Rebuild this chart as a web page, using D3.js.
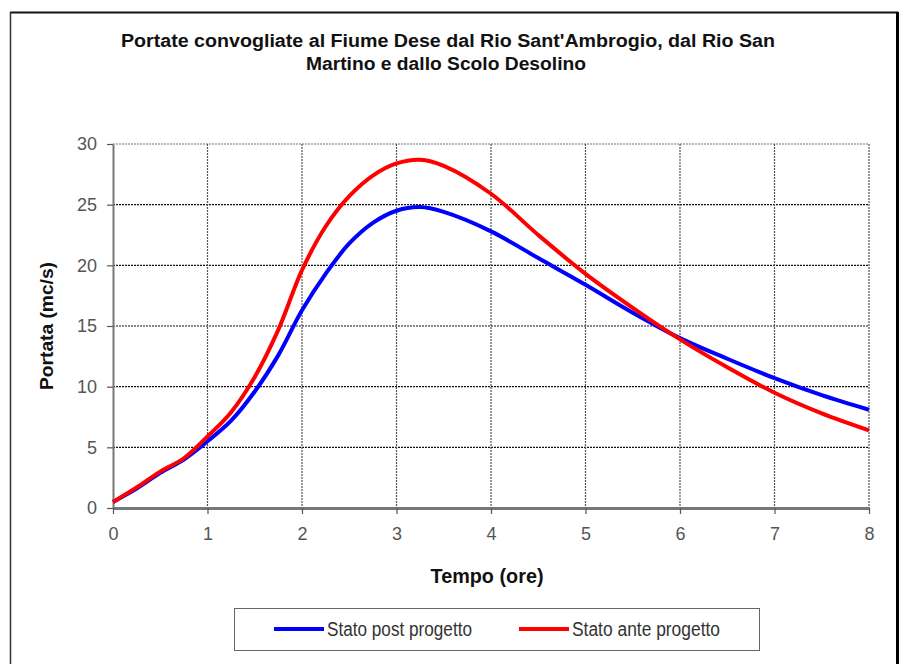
<!DOCTYPE html>
<html>
<head>
<meta charset="utf-8">
<script src="https://d3js.org/d3.v7.min.js"></script>
<style>
  body { margin: 0; background: #fff; }
  svg { display: block; }
  text { font-family: "Liberation Sans Narrow", "Liberation Sans", Arial, sans-serif; }
</style>
</head>
<body>
<script>
// Chart data
var tempo = [0, 0.25, 0.5, 0.75, 1, 1.25, 1.5, 1.75, 2, 2.25, 2.5, 2.75, 3, 3.25, 3.5,
             4, 4.5, 5, 5.5, 6, 6.5, 7, 7.5, 8];
var statoPost = [0.5, 1.6, 2.9, 4.0, 5.5, 7.2, 9.6, 12.6, 16.3, 19.3, 21.8, 23.5, 24.5, 24.8, 24.4,
                 22.8, 20.6, 18.4, 16.1, 14.0, 12.3, 10.7, 9.3, 8.1];
var statoAnte = [0.5, 1.7, 3.0, 4.1, 5.9, 7.9, 10.8, 14.7, 19.6, 23.2, 25.7, 27.4, 28.4, 28.7, 28.2,
                 25.9, 22.5, 19.3, 16.5, 13.9, 11.6, 9.5, 7.8, 6.4];
var xTicks = [0, 1, 2, 3, 4, 5, 6, 7, 8];
var yTicks = [0, 5, 10, 15, 20, 25, 30];
var seriesNames = ["Stato post progetto", "Stato ante progetto"];
var seriesColors = ["#0000ff", "#ff0000"];

var W = 907, H = 664;
var plot = {left: 113, right: 869, top: 144, bottom: 508};

var svg = d3.select("body").append("svg")
    .attr("width", W)
    .attr("height", H);

// outer frame
svg.append("rect").attr("x", 0).attr("y", 0).attr("width", W).attr("height", H).attr("fill", "#fff");
svg.append("line").attr("x1", 10).attr("x2", 898).attr("y1", 12.5).attr("y2", 12.5)
    .attr("stroke", "#111").attr("stroke-width", 2);
svg.append("line").attr("x1", 10.5).attr("x2", 10.5).attr("y1", 12).attr("y2", H)
    .attr("stroke", "#333").attr("stroke-width", 1.5);
svg.append("line").attr("x1", 897.5).attr("x2", 897.5).attr("y1", 12).attr("y2", H)
    .attr("stroke", "#000").attr("stroke-width", 3);

var x = d3.scaleLinear().domain([0, 8]).range([plot.left, plot.right]);
var y = d3.scaleLinear().domain([0, 30]).range([plot.bottom, plot.top]);

// grid
svg.append("g")
  .selectAll("line")
  .data(yTicks.filter(function(d) { return d > 0; }))
  .enter().append("line")
    .attr("x1", plot.left).attr("x2", plot.right)
    .attr("y1", function(d) { return y(d); })
    .attr("y2", function(d) { return y(d); })
    .attr("stroke", function(d) { return d === 30 ? "#777" : "#111"; })
    .attr("stroke-width", 1.2)
    .attr("stroke-dasharray", "2,1");

svg.append("g")
  .selectAll("line")
  .data(xTicks.filter(function(d) { return d > 0; }))
  .enter().append("line")
    .attr("x1", function(d) { return x(d); })
    .attr("x2", function(d) { return x(d); })
    .attr("y1", plot.top).attr("y2", plot.bottom)
    .attr("stroke", "#555")
    .attr("stroke-width", 1.2)
    .attr("stroke-dasharray", "2,1");

// axes
var yAxis = svg.append("g")
    .attr("transform", "translate(" + plot.left + ",0)")
    .call(d3.axisLeft(y).tickValues(yTicks).tickSize(6).tickPadding(10).tickSizeOuter(0));
var xAxis = svg.append("g")
    .attr("transform", "translate(0," + plot.bottom + ")")
    .call(d3.axisBottom(x).tickValues(xTicks).tickSize(6).tickPadding(13).tickSizeOuter(0));

yAxis.select(".domain").attr("stroke", "#777").attr("stroke-width", 2);
xAxis.select(".domain").attr("stroke", "#777").attr("stroke-width", 3);
[yAxis, xAxis].forEach(function(a) {
  a.selectAll(".tick line").attr("stroke", "#555").attr("stroke-width", 1.2);
  a.selectAll(".tick text")
    .attr("font-family", "'Liberation Sans Narrow', 'Liberation Sans', Arial, sans-serif")
    .attr("font-size", 18)
    .attr("fill", "#555");
});

// lines
var line = d3.line()
    .x(function(d) { return x(d[0]); })
    .y(function(d) { return y(d[1]); })
    .curve(d3.curveCatmullRom.alpha(0.5));

[statoPost, statoAnte].forEach(function(vals, i) {
  svg.append("path")
    .datum(tempo.map(function(t, k) { return [t, vals[k]]; }))
    .attr("fill", "none")
    .attr("stroke", seriesColors[i])
    .attr("stroke-width", 4)
    .attr("stroke-linejoin", "round")
    .attr("d", line);
});

// title
svg.append("text")
    .attr("x", 448).attr("y", 47)
    .attr("text-anchor", "middle")
    .attr("font-size", 18).attr("font-weight", "bold").attr("fill", "#111")
    .attr("textLength", 654).attr("lengthAdjust", "spacingAndGlyphs")
    .text("Portate convogliate al Fiume Dese dal Rio Sant'Ambrogio, dal Rio San");
svg.append("text")
    .attr("x", 446).attr("y", 70)
    .attr("text-anchor", "middle")
    .attr("font-size", 18).attr("font-weight", "bold").attr("fill", "#111")
    .attr("textLength", 280).attr("lengthAdjust", "spacingAndGlyphs")
    .text("Martino e dallo Scolo Desolino");

// axis titles
svg.append("text")
    .attr("transform", "translate(53,326) rotate(-90)")
    .attr("text-anchor", "middle")
    .attr("font-size", 18).attr("font-weight", "bold").attr("fill", "#111")
    .attr("textLength", 128).attr("lengthAdjust", "spacingAndGlyphs")
    .text("Portata (mc/s)");
svg.append("text")
    .attr("x", 487).attr("y", 583)
    .attr("text-anchor", "middle")
    .attr("font-size", 20).attr("font-weight", "bold").attr("fill", "#111")
    .attr("textLength", 113).attr("lengthAdjust", "spacingAndGlyphs")
    .text("Tempo (ore)");

// legend
svg.append("rect")
    .attr("x", 234.5).attr("y", 608.5).attr("width", 525).attr("height", 42)
    .attr("fill", "#fff").attr("stroke", "#666").attr("stroke-width", 1);

var legendX = [274, 519];
var legendLen = [145, 148];
seriesNames.forEach(function(name, i) {
  svg.append("line")
    .attr("x1", legendX[i]).attr("x2", legendX[i] + 50)
    .attr("y1", 629).attr("y2", 629)
    .attr("stroke", seriesColors[i]).attr("stroke-width", 4);
  svg.append("text")
    .attr("x", legendX[i] + 53).attr("y", 636)
    .attr("font-size", 20).attr("fill", "#333")
    .attr("textLength", legendLen[i]).attr("lengthAdjust", "spacingAndGlyphs")
    .text(name);
});
</script>
</body>
</html>
